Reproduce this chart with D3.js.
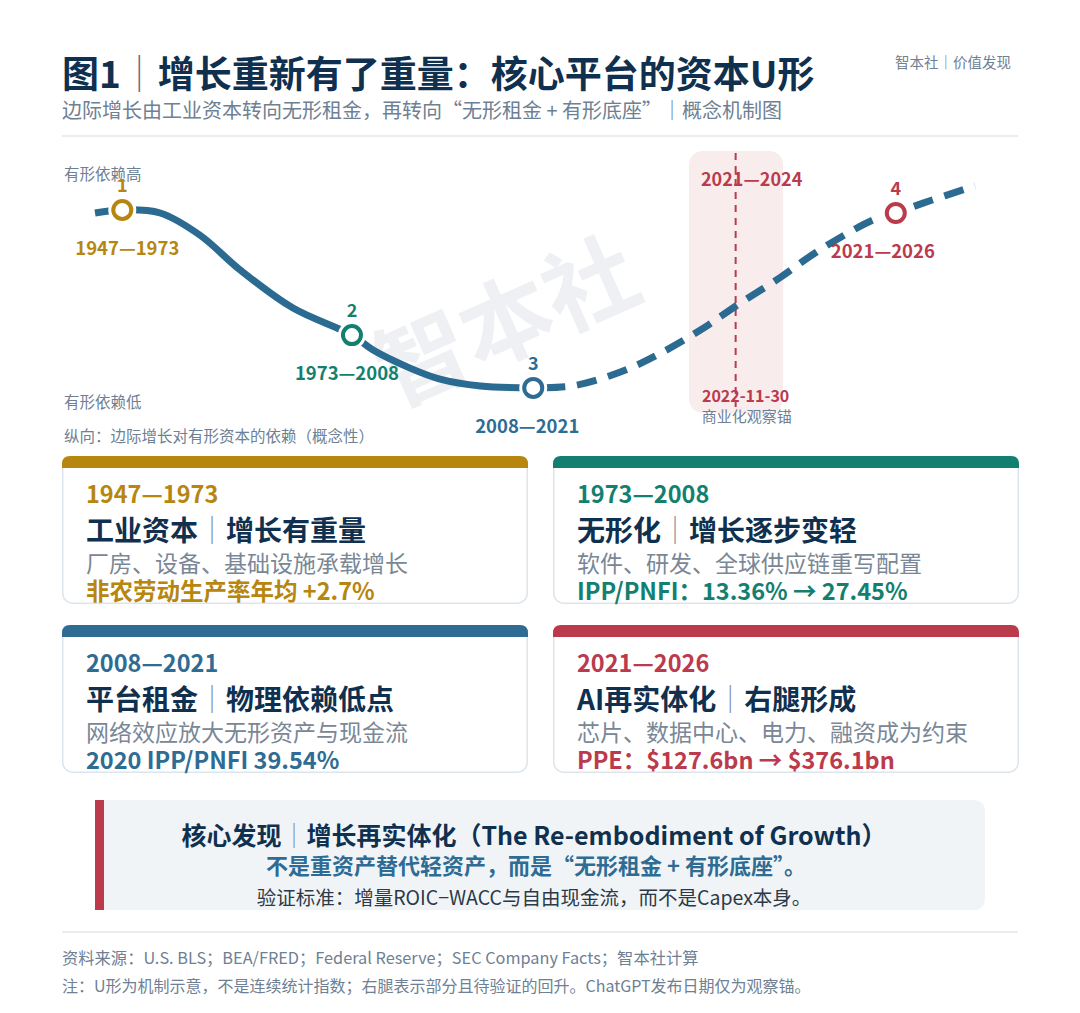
<!DOCTYPE html>
<html>
<head>
<meta charset="utf-8">
<script src="https://cdn.jsdelivr.net/npm/d3@7"></script>
<style>
  html, body { margin: 0; padding: 0; background: #fff; }
  svg { display: block; font-family: "Noto Sans CJK SC", "Noto Sans", sans-serif; }
</style>
</head>
<body>
<div id="chart"></div>
<script>
const width = 1080;
const height = 1013;

// 概念曲线（横向：时间推进 0-100；纵向：有形依赖 0-100）
const curveX = [0, 3.1, 7.4, 11.9, 16.5, 22.5, 29.2, 31.6, 35.8, 39.2, 43.8, 49.8, 54.3, 59.7, 63.9, 68.8, 73.0, 77.8, 82.0, 88.4, 91.0, 94.1, 100];
const curveY = [85, 86.4, 85, 75, 59.1, 41.8, 29.5, 22.7, 14.5, 9.5, 6.4, 5.5, 6.4, 12.7, 20.5, 31.8, 43.2, 55.5, 67.3, 81.8, 85, 89.5, 97.3];
const solidUntil = 11; // 到点3为止为实线，之后为虚线（待验证）

// 四个阶段节点
const stageIdx = [1, 6, 11, 20];
const stageNum = ["1", "2", "3", "4"];
const stagePeriod = ["1947—1973", "1973—2008", "2008—2021", "2021—2026"];
const stageColor = ["#b7860f", "#13806f", "#2e6c94", "#bb3a4c"];

// 观察锚
const anchorX = 72.8;
const bandRange = [67.5, 78.2];

// 卡片
const cardTitleA = ["工业资本", "无形化", "平台租金", "AI再实体化"];
const cardTitleB = ["增长有重量", "增长逐步变轻", "物理依赖低点", "右腿形成"];
const cardDesc = ["厂房、设备、基础设施承载增长", "软件、研发、全球供应链重写配置", "网络效应放大无形资产与现金流", "芯片、数据中心、电力、融资成为约束"];
const cardMetric = ["非农劳动生产率年均 +2.7%", "IPP/PNFI：13.36% → 27.45%", "2020 IPP/PNFI 39.54%", "PPE：$127.6bn → $376.1bn"];

const navy = "#10304f";
const grey = "#6e8093";
const lineColor = "#2c6b91";

const svg = d3.select("#chart").append("svg").attr("width", width).attr("height", height);

// ---- 标题 ----
const title = svg.append("text").attr("x", 62).attr("y", 88)
  .attr("font-size", 37).attr("font-weight", 700).attr("fill", navy);
title.append("tspan").text("图1");
title.append("tspan").attr("font-weight", 300).attr("fill", "#5a6b7c").text("｜");
title.append("tspan").text("增长重新有了重量：核心平台的资本U形");

svg.append("text").attr("x", 62).attr("y", 118).attr("font-size", 20).attr("fill", grey)
  .text("边际增长由工业资本转向无形租金，再转向“无形租金 + 有形底座”｜概念机制图");

svg.append("text").attr("x", 1011).attr("y", 68).attr("text-anchor", "end")
  .attr("font-size", 14.5).attr("fill", grey).text("智本社｜价值发现");

svg.append("line").attr("x1", 62).attr("x2", 1018).attr("y1", 136).attr("y2", 136)
  .attr("stroke", "#e3e9ef").attr("stroke-width", 1.5);

// ---- 曲线区 ----
const x = d3.scaleLinear().domain([0, 100]).range([95, 975]);
const y = d3.scaleLinear().domain([0, 100]).range([400, 180]);

// 水印
svg.append("text").attr("transform", "translate(520,352) rotate(-24)")
  .attr("text-anchor", "middle").attr("font-size", 92).attr("font-weight", 700)
  .attr("fill", "#eef0f3").text("智本社");

// 观察锚区间
svg.append("rect").attr("x", x(bandRange[0])).attr("y", 151)
  .attr("width", x(bandRange[1]) - x(bandRange[0])).attr("height", 262)
  .attr("rx", 14).attr("fill", "#f8eced");
svg.append("line").attr("x1", x(anchorX)).attr("x2", x(anchorX)).attr("y1", 153).attr("y2", 410)
  .attr("stroke", "#bb3a4c").attr("stroke-width", 2).attr("stroke-dasharray", "7,6");
svg.append("text").attr("x", x(anchorX) + 16).attr("y", 186).attr("text-anchor", "middle")
  .attr("font-size", 18).attr("font-weight", 700).attr("fill", "#bb3a4c").text("2021—2024");
svg.append("text").attr("x", x(anchorX) + 10).attr("y", 402).attr("text-anchor", "middle")
  .attr("font-size", 16).attr("font-weight", 700).attr("fill", "#bb3a4c").text("2022-11-30");
svg.append("text").attr("x", x(anchorX) + 11).attr("y", 422).attr("text-anchor", "middle")
  .attr("font-size", 15).attr("fill", grey).text("商业化观察锚");

// 纵轴说明
svg.append("text").attr("x", 64).attr("y", 180).attr("font-size", 15.5).attr("fill", grey).text("有形依赖高");
svg.append("text").attr("x", 64).attr("y", 408).attr("font-size", 15.5).attr("fill", grey).text("有形依赖低");
svg.append("text").attr("x", 64).attr("y", 442).attr("font-size", 15.5).attr("fill", grey).text("纵向：边际增长对有形资本的依赖（概念性）");

const pts = curveX.map((d, i) => [d, curveY[i]]);
const line = d3.line().x(d => x(d[0])).y(d => y(d[1])).curve(d3.curveCatmullRom.alpha(0.5));

svg.append("path").attr("d", line(pts.slice(0, solidUntil + 1)))
  .attr("fill", "none").attr("stroke", lineColor).attr("stroke-width", 7).attr("stroke-linecap", "butt");
svg.append("path").attr("d", line(pts.slice(solidUntil)))
  .attr("fill", "none").attr("stroke", lineColor).attr("stroke-width", 7)
  .attr("stroke-dasharray", "20,12").attr("stroke-dashoffset", -12);

// 节点
const nodes = svg.selectAll(".node").data(stageIdx).join("g").attr("class", "node")
  .attr("transform", d => `translate(${x(curveX[d])},${y(curveY[d])})`);
nodes.append("circle").attr("r", 14).attr("fill", "#fff");
nodes.append("circle").attr("r", 9).attr("fill", "#fff")
  .attr("stroke", (d, i) => stageColor[i]).attr("stroke-width", 4);
nodes.append("text").attr("y", -18).attr("text-anchor", "middle")
  .attr("font-size", 18).attr("font-weight", 700).attr("fill", (d, i) => stageColor[i])
  .text((d, i) => stageNum[i]);
const periodDx = [5, -5, -6, -13];
nodes.append("text").attr("x", (d, i) => periodDx[i]).attr("y", 45).attr("text-anchor", "middle")
  .attr("font-size", 18.5).attr("font-weight", 700).attr("fill", (d, i) => stageColor[i])
  .text((d, i) => stagePeriod[i]);

// ---- 卡片 ----
const cardX = [62, 553, 62, 553];
const cardTop = [456, 456, 625, 625];
const cardW = 466, cardH = 148;

const cards = svg.selectAll(".card").data(cardTitleA).join("g").attr("class", "card")
  .attr("transform", (d, i) => `translate(${cardX[i]},${cardTop[i]})`);
cards.append("rect").attr("x", 0.75).attr("y", 0.75).attr("width", cardW - 1.5).attr("height", cardH - 1.5)
  .attr("rx", 10).attr("fill", "#fff").attr("stroke", "#dde5ec").attr("stroke-width", 1.5);
cards.append("path")
  .attr("d", `M0,12 L0,8 Q0,0 8,0 L${cardW - 8},0 Q${cardW},0 ${cardW},8 L${cardW},12 Z`)
  .attr("fill", (d, i) => stageColor[i]);
cards.append("text").attr("x", 24).attr("y", 47).attr("font-size", 23.5).attr("font-weight", 700)
  .attr("fill", (d, i) => stageColor[i]).text((d, i) => stagePeriod[i]);
const ct = cards.append("text").attr("x", 24).attr("y", 85).attr("font-size", 28).attr("font-weight", 700).attr("fill", navy);
ct.append("tspan").text(d => d);
ct.append("tspan").attr("font-weight", 300).attr("fill", "#7d8d9d").text("｜");
ct.append("tspan").text((d, i) => cardTitleB[i]);
cards.append("text").attr("x", 24).attr("y", 116).attr("font-size", 23).attr("fill", "#7a8796")
  .text((d, i) => cardDesc[i]);
cards.append("text").attr("x", 24).attr("y", 144).attr("font-size", 23.5).attr("font-weight", 700)
  .attr("fill", (d, i) => stageColor[i]).text((d, i) => cardMetric[i]);

// ---- 核心发现 ----
svg.append("path").attr("d", "M95,800 L973,800 Q985,800 985,812 L985,898 Q985,910 973,910 L95,910 Z")
  .attr("fill", "#f1f4f7");
svg.append("rect").attr("x", 95).attr("y", 800).attr("width", 9).attr("height", 110).attr("fill", "#bb3a4c");
const kt = svg.append("text").attr("x", 534).attr("y", 845).attr("text-anchor", "middle")
  .attr("font-size", 25).attr("font-weight", 700).attr("fill", navy);
kt.append("tspan").text("核心发现");
kt.append("tspan").attr("font-weight", 300).attr("fill", "#7d8d9d").text("｜");
kt.append("tspan").text("增长再实体化（The Re-embodiment of Growth）");
svg.append("text").attr("x", 536).attr("y", 874).attr("text-anchor", "middle")
  .attr("font-size", 22).attr("font-weight", 700).attr("fill", "#2e6c94")
  .text("不是重资产替代轻资产，而是“无形租金 + 有形底座”。");
svg.append("text").attr("x", 534).attr("y", 905).attr("text-anchor", "middle")
  .attr("font-size", 19.5).attr("fill", "#2c3a48")
  .text("验证标准：增量ROIC−WACC与自由现金流，而不是Capex本身。");

// ---- 脚注 ----
svg.append("line").attr("x1", 62).attr("x2", 1018).attr("y1", 932).attr("y2", 932)
  .attr("stroke", "#e3e9ef").attr("stroke-width", 1.5);
svg.append("text").attr("x", 62).attr("y", 964).attr("font-size", 16.3).attr("fill", grey)
  .text("资料来源：U.S. BLS；BEA/FRED；Federal Reserve；SEC Company Facts；智本社计算");
svg.append("text").attr("x", 62).attr("y", 992).attr("font-size", 16).attr("fill", grey)
  .text("注：U形为机制示意，不是连续统计指数；右腿表示部分且待验证的回升。ChatGPT发布日期仅为观察锚。");
</script>
</body>
</html>
